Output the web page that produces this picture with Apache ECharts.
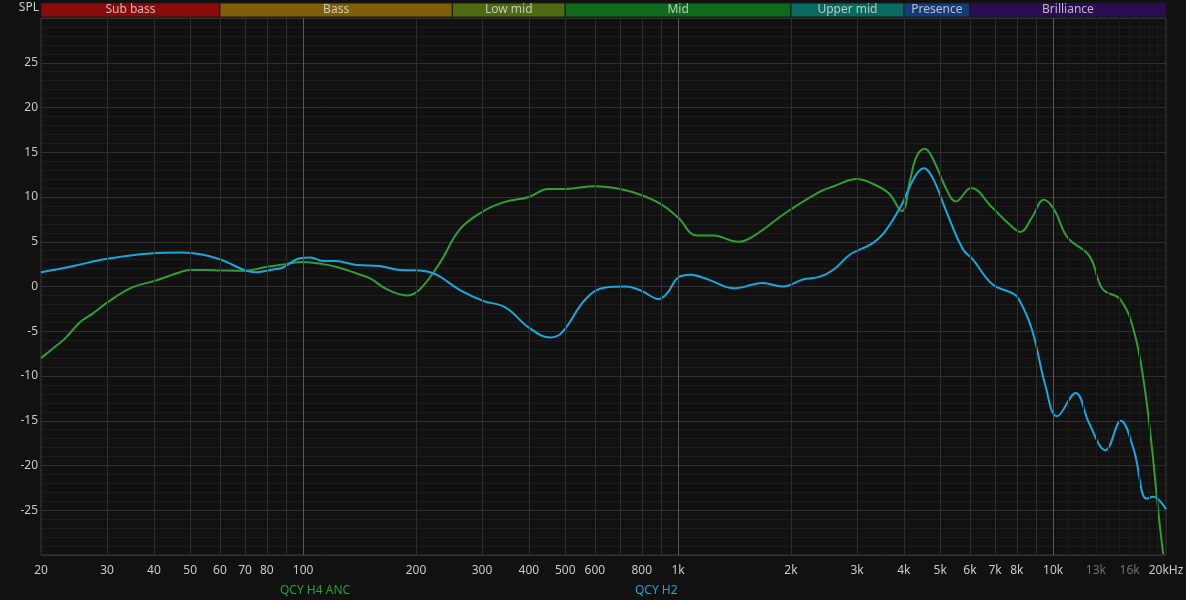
<!DOCTYPE html>
<html>
<head>
<meta charset="utf-8">
<script src="https://cdn.jsdelivr.net/npm/echarts@6/dist/echarts.min.js"></script>
<style>
html,body{margin:0;padding:0;background:#111111;}
#c{width:1186px;height:600px;}
</style>
</head>
<body>
<div id="c"></div>
<script>
// ---------- DATA ----------
const h4Freq = [20,22,23.2,25.4,27.5,30,35,40,44,47,50,55,60,70,80,90,100,113,125,139,151,167,189,205,232,262,302,342,400,450,500,600,700,800,900,1000,1120,1240,1445,1585,1946,2390,2600,3000,3330,3650,3950,4160,4330,4550,4790,5190,5500,6040,6890,7620,8180,8780,9440,10060,10920,12500,13560,15080,16380,17400,18320,19080,19660];
const h4Spl = [-8.0,-6.6,-5.8,-4.0,-3.0,-1.8,-0.1,0.6,1.2,1.6,1.85,1.85,1.8,1.75,2.2,2.5,2.75,2.5,2.1,1.45,0.9,-0.3,-1.0,-0.3,2.7,6.4,8.4,9.4,10.0,10.9,10.9,11.2,10.9,10.2,9.2,7.7,5.7,5.7,5.0,5.6,8.3,10.6,11.2,12.0,11.4,10.4,8.4,12.0,14.6,15.4,14.2,10.9,9.5,11.0,8.8,7.0,6.1,7.7,9.7,8.6,5.5,3.4,-0.3,-1.4,-4.8,-10.3,-17.8,-25.2,-29.9];

const h2Freq = [20,24.4,30,39,47.5,53.3,60,65,70.6,75,83,88,98,104.6,113,122,139,160,181,205,226,262,302,347,400,457,491,567,640,725,800,887,937,1000,1080,1200,1410,1680,1900,2160,2390,2600,2880,3260,3540,3930,4270,4520,4790,5190,5740,6100,6890,7790,8100,8780,9540,10240,11490,12450,13800,15150,16400,17740,18500,20000];
const h2Spl = [1.6,2.3,3.1,3.7,3.8,3.6,3.05,2.4,1.75,1.6,1.9,2.1,3.15,3.25,2.85,2.85,2.4,2.3,1.85,1.8,1.35,-0.4,-1.6,-2.35,-4.6,-5.7,-5.1,-1.4,-0.1,0.0,-0.5,-1.4,-0.7,1.0,1.3,0.8,-0.2,0.4,0.0,0.8,1.1,1.9,3.6,4.7,6.0,9.0,12.2,13.2,12.0,8.4,4.2,3.05,0.25,-0.75,-1.4,-4.8,-11.1,-14.5,-11.9,-15.2,-18.3,-15.0,-18.2,-23.7,-23.5,-24.9];

const seriesNames = ['QCY H4 ANC','QCY H2'];

const tickFreqs = [20,30,40,50,60,70,80,100,200,300,400,500,600,800,1000,2000,3000,4000,5000,6000,7000,8000,10000,13000,16000,20000];
const tickLabels = ['20','30','40','50','60','70','80','100','200','300','400','500','600','800','1k','2k','3k','4k','5k','6k','7k','8k','10k','13k','16k','20kHz'];
const dimTickLabels = ['13k','16k'];

const gridFreqs = [30,40,50,60,70,80,90,100,200,300,400,500,600,700,800,900,1000,2000,3000,4000,5000,6000,7000,8000,9000,10000];
const majorGridFreqs = [100,1000,10000];
const fineGridFreqs = [11000,12000,13000,14000,15000,16000,17000,18000,19000];

const bandNames = ['Sub bass','Bass','Low mid','Mid','Upper mid','Presence','Brilliance'];
const bandEdges = [20,60,250,500,2000,4000,6000,20000];

// ---------- STYLE ----------
const bandColors = ['#8a0b0b','#7f5f08','#4e6a12','#0f6a1d','#0b6a5f','#163b79','#2b0d52'];
const colH4 = '#2f9e35';
const colH2 = '#17a8dc';
const FONT = 'Noto Sans';

function pairs(xs, ys){ return xs.map((x,i)=>[x, ys[i]]); }

const gridLineData = gridFreqs.map(f => ({
  xAxis: f,
  lineStyle: { color: majorGridFreqs.includes(f) ? '#575757' : '#2d2d2d', width: 1, type: 'solid' }
})).concat(fineGridFreqs.map(f => ({
  xAxis: f,
  lineStyle: { color: '#1b1b1b', width: 1, type: 'solid' }
})));

const tickLabelData = tickFreqs.map((f,i) => ({
  xAxis: f,
  lineStyle: { color: 'rgba(0,0,0,0)', width: 1, type: 'solid' },
  label: {
    show: true,
    position: 'start',
    distance: 10,
    formatter: tickLabels[i],
    color: dimTickLabels.includes(tickLabels[i]) ? '#707070' : '#c8c8c8',
    fontSize: 12,
    fontFamily: FONT
  }
}));

const bandData = bandNames.map((n,i) => [
  { xAxis: bandEdges[i], name: n, itemStyle: { color: bandColors[i] } },
  { xAxis: bandEdges[i+1] }
]);

const chart = echarts.init(document.getElementById('c'), null, { renderer: 'canvas' });

chart.setOption({
  backgroundColor: '#111111',
  animation: false,
  textStyle: { fontFamily: FONT },
  grid: [
    { left: 41, right: 20, top: 18, bottom: 45, show: true, borderColor: '#3a3a3a', borderWidth: 1, backgroundColor: 'transparent' },
    { left: 41, right: 20, top: 3, height: 14, show: false }
  ],
  xAxis: [
    { type: 'log', logBase: 10, min: 20, max: 20000, gridIndex: 0,
      axisLine: { show: false }, axisTick: { show: false }, axisLabel: { show: false }, splitLine: { show: false } },
    { type: 'log', logBase: 10, min: 20, max: 20000, gridIndex: 1, show: false }
  ],
  yAxis: [
    { type: 'value', min: -30, max: 30, interval: 5, gridIndex: 0,
      name: 'SPL', nameLocation: 'end', nameGap: 10,
      nameTextStyle: { color: '#cccccc', fontSize: 12, align: 'right', verticalAlign: 'middle', padding: [0, 2, 0, 0], fontFamily: FONT },
      axisLine: { show: false }, axisTick: { show: false },
      axisLabel: { color: '#c8c8c8', fontSize: 12, margin: 3, fontFamily: FONT,
        formatter: v => (Math.abs(v) === 30 ? '' : String(v)) },
      splitLine: { show: true, lineStyle: { color: '#313131', width: 1 } },
      minorTick: { show: false, splitNumber: 5 },
      minorSplitLine: { show: true, lineStyle: { color: '#1c1c1c', width: 1 } }
    },
    { type: 'value', min: 0, max: 1, gridIndex: 1, show: false }
  ],
  legend: [
    { data: [{ name: seriesNames[0], textStyle: { color: colH4 } }], left: 275, top: 584, padding: 0,
      itemWidth: 0, itemHeight: 14, icon: 'none', selectedMode: false,
      textStyle: { fontSize: 12, fontFamily: FONT, color: colH4 } },
    { data: [{ name: seriesNames[1], textStyle: { color: colH2 } }], left: 630, top: 584, padding: 0,
      itemWidth: 0, itemHeight: 14, icon: 'none', selectedMode: false,
      textStyle: { fontSize: 12, fontFamily: FONT, color: colH2 } }
  ],
  series: [
    { name: '_grid', type: 'line', xAxisIndex: 0, yAxisIndex: 0, data: [], silent: true, z: 1,
      markLine: { silent: true, symbol: ['none','none'], animation: false, label: { show: false },
        emphasis: { disabled: true }, data: gridLineData } },
    { name: '_ticks', type: 'line', xAxisIndex: 0, yAxisIndex: 0, data: [], silent: true, z: 1,
      markLine: { silent: true, symbol: ['none','none'], animation: false,
        emphasis: { disabled: true }, data: tickLabelData } },
    { name: seriesNames[0], type: 'line', xAxisIndex: 0, yAxisIndex: 0, data: pairs(h4Freq, h4Spl),
      smooth: 0.4, showSymbol: false, z: 3, lineStyle: { color: colH4, width: 2 }, itemStyle: { color: colH4 } },
    { name: seriesNames[1], type: 'line', xAxisIndex: 0, yAxisIndex: 0, data: pairs(h2Freq, h2Spl),
      smooth: 0.4, showSymbol: false, z: 4, lineStyle: { color: colH2, width: 2 }, itemStyle: { color: colH2 } },
    { name: '_bands', type: 'line', xAxisIndex: 1, yAxisIndex: 1, data: [], silent: true,
      markArea: { silent: true,
        itemStyle: { borderColor: '#1a1a1a', borderWidth: 1 },
        label: { show: true, position: 'inside', color: 'rgba(225,225,225,0.78)', fontSize: 12, fontFamily: FONT },
        emphasis: { disabled: true },
        data: bandData } }
  ]
});
</script>
</body>
</html>
